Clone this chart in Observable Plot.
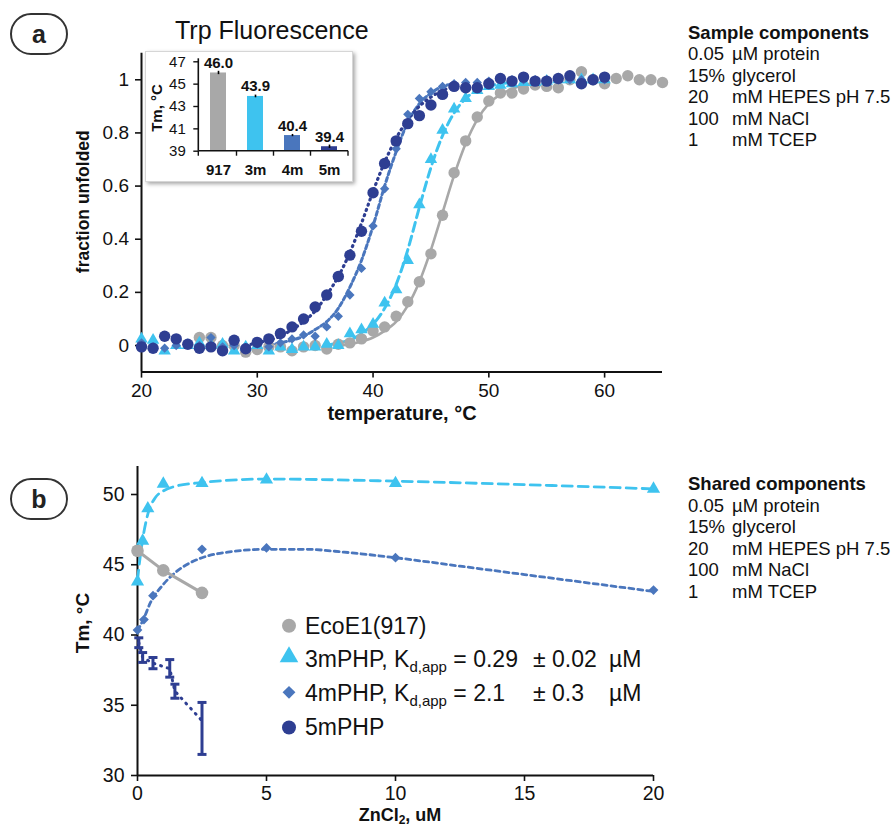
<!DOCTYPE html>
<html><head><meta charset="utf-8">
<script src="https://cdn.jsdelivr.net/npm/d3@7"></script>
<script src="https://cdn.jsdelivr.net/npm/@observablehq/plot@0.6"></script>
<style>
html,body{margin:0;padding:0;background:#fff;overflow:hidden;}
#root{position:relative;width:896px;height:828px;overflow:hidden;font-family:"Liberation Sans",Arial,Helvetica,sans-serif;}
.tag{position:absolute;box-sizing:border-box;border:2px solid #333;border-radius:21px;width:58px;height:42px;text-align:center;font-weight:bold;font-size:25px;line-height:38px;color:#222;}
#inset{position:absolute;left:145px;top:51px;width:206px;height:129px;background:#fff;border:1px solid #d6d6d6;box-shadow:2px 2px 4px rgba(0,0,0,0.35);}
</style></head>
<body><div id="root"></div>
<script>
const FONT = '"Liberation Sans", Arial, Helvetica, sans-serif';
const C917 = "#a8a8a8", C3 = "#3ec3ef", C4 = "#4a76bd", C5 = "#2e3e92";

// ---------- Panel a: Trp fluorescence melting curves ----------
const tempsMut = [20,21,22,23,24,25,26,27,28,29,30,31,32,33,34,35,36,37,38,39,40,41,42,43,44,45,46,47,48,49,50,51,52,53,54,55,56,57,58,59,60];
const temps917 = [25,26,27,28,29,30,31,32,33,34,35,36,37,38,39,40,41,42,43,44,45,46,47,48,49,50,51,52,53,54,55,56,57,58,59,60,61,62,63,64,65];
const frac917 = [0.03,0.03,0.0,0.0,-0.025,-0.015,-0.005,-0.005,-0.02,-0.005,0.0,-0.013,0.005,0.01,0.025,0.055,0.07,0.11,0.165,0.24,0.345,0.49,0.65,0.77,0.86,0.92,0.95,0.95,0.965,0.98,0.975,0.97,1.0,1.03,1.0,0.985,1.005,1.015,1.0,1.0,0.99];
const frac3m = [0.025,0.02,-0.02,0.0,0.0,0.01,0.0,0.005,-0.02,-0.005,0.0,-0.02,-0.005,-0.015,-0.005,-0.005,0.005,0.0,0.045,0.06,0.08,0.16,0.21,0.32,0.53,0.70,0.81,0.89,0.93,0.96,0.975,0.98,0.985,0.99,0.99,0.995,1.0,1.0,1.0,1.0,1.0];
const frac4m = [0.01,-0.005,-0.01,0.0,0.005,0.0,0.03,-0.005,0.0,-0.01,0.005,-0.005,0.01,0.025,0.04,0.035,0.07,0.11,0.19,0.29,0.45,0.59,0.74,0.87,0.93,0.955,0.975,0.985,0.99,0.99,0.995,1.0,1.0,1.0,1.0,1.0,1.0,1.0,1.0,1.0,1.0];
const frac5m = [-0.005,-0.01,0.035,0.025,0.005,-0.01,-0.005,-0.02,0.02,-0.012,0.012,0.025,0.045,0.07,0.10,0.145,0.19,0.26,0.34,0.43,0.575,0.685,0.77,0.835,0.865,0.905,0.945,0.975,0.97,0.97,0.985,1.005,0.995,1.01,0.995,0.995,1.005,1.015,0.985,1.0,1.01];
// fitted curves
const fitT917 = [37,38,39,40,41,42,43,44,45,46,47,48,49,50,51,52,53,54];
const fitV917 = [0,0.005,0.015,0.03,0.055,0.09,0.15,0.24,0.36,0.5,0.64,0.76,0.85,0.91,0.945,0.965,0.98,0.99];
const fitT3m = [36,37,38,39,40,41,42,43,44,45,46,47,48,49,50,51,52];
const fitV3m = [0,0.01,0.02,0.045,0.08,0.14,0.23,0.36,0.52,0.67,0.79,0.875,0.93,0.96,0.975,0.985,0.99];
const fitT4m = [31,32,33,34,35,36,37,38,39,40,41,42,43,44,45,46,47];
const fitV4m = [0,0.01,0.02,0.035,0.06,0.09,0.14,0.22,0.32,0.45,0.6,0.73,0.84,0.91,0.95,0.975,0.985];
const fitT5m = [29,30,31,32,33,34,35,36,37,38,39,40,41,42,43,44,45,46,47];
const fitV5m = [0,0.01,0.02,0.035,0.06,0.09,0.13,0.19,0.26,0.35,0.46,0.58,0.69,0.78,0.85,0.9,0.935,0.96,0.975];

// inset bars
const insetCats = ["917","3m","4m","5m"];
const insetTm = [46.0, 43.9, 40.4, 39.4];
const insetErr = [0.15, 0.12, 0.1, 0.15];
const insetColors = [C917, C3, C4, C5];

// ---------- Panel b: Tm vs ZnCl2 ----------
const conc917 = [0, 1, 2.5];
const tm917 = [46.0, 44.6, 43.0];
const conc3m = [0, 0.2, 0.4, 1, 2.5, 5, 10, 20];
const tm3m = [43.8, 46.7, 49.0, 50.75, 50.8, 51.05, 50.8, 50.4];
const conc4m = [0, 0.25, 0.6, 2.5, 5, 10, 20];
const tm4m = [40.35, 41.1, 42.8, 46.1, 46.2, 45.5, 43.2];
const conc5m = [0.05, 0.2, 0.6, 1.25, 1.45, 2.5];
const tm5m = [39.45, 38.4, 38.0, 37.6, 36.0, 33.9];
const lo5m = [39.1, 38.05, 37.6, 37.0, 35.5, 31.5];
const hi5m = [39.8, 38.75, 38.4, 38.25, 36.5, 35.2];
const fitC3m = [0, 0.1, 0.2, 0.4, 0.7, 1, 1.5, 2.5, 5, 10, 15, 20];
const fitTm3m = [43.9, 45.5, 46.8, 48.6, 49.8, 50.25, 50.6, 50.85, 51.1, 50.95, 50.7, 50.4];
const fitC4m = [0, 0.25, 0.5, 1, 1.5, 2, 2.5, 3.5, 5, 6.5, 8, 10, 12.5, 15, 17.5, 20];
const fitTm4m = [40.3, 41.2, 42.3, 43.6, 44.5, 45.1, 45.5, 45.9, 46.1, 46.1, 45.9, 45.5, 44.9, 44.3, 43.7, 43.1];

const legendLabels = ["EcoE1(917)", "3mPHP", "4mPHP", "5mPHP"];
const componentsA = [["0.05","µM protein"],["15%","glycerol"],["20","mM HEPES pH 7.5"],["100","mM NaCl"],["1","mM TCEP"]];

// ---------- helpers ----------
const zip = (xs, ys, kx, ky) => xs.map((x, i) => ({[kx]: x, [ky]: ys[i]}));
const root = document.getElementById("root");
const place = (el, left, top) => { el.style.position = "absolute"; el.style.left = left + "px"; el.style.top = top + "px"; root.appendChild(el); return el; };

// ---------- Panel a plot ----------
const plotA = Plot.plot({
  width: 700, height: 430,
  marginLeft: 141, marginRight: 38, marginTop: 52.7, marginBottom: 58.4,
  style: {fontFamily: FONT, fontSize: "19px", color: "#111", background: "transparent", overflow: "visible"},
  x: {domain: [20, 65]},
  y: {domain: [-0.1, 1.1]},
  marks: [
    Plot.axisX({ticks: [20,30,40,50,60], tickSize: 6, tickPadding: 5, label: null, strokeWidth: 1.6}),
    Plot.axisY({ticks: [0,0.2,0.4,0.6,0.8,1], tickSize: 6, tickPadding: 6.5, label: null, strokeWidth: 1.6, tickFormat: d => String(d)}),
    Plot.ruleX([20], {stroke: "#111", strokeWidth: 2}),
    Plot.ruleY([-0.1], {stroke: "#111", strokeWidth: 2}),
    Plot.line(zip(fitT917, fitV917, "t", "v"), {x: "t", y: "v", stroke: C917, strokeWidth: 2.6, curve: "monotone-x"}),
    Plot.line(zip(fitT3m, fitV3m, "t", "v"), {x: "t", y: "v", stroke: C3, strokeWidth: 3, strokeDasharray: "9,5", curve: "monotone-x"}),
    Plot.line(zip(fitT4m, fitV4m, "t", "v"), {x: "t", y: "v", stroke: C4, strokeWidth: 3, strokeDasharray: "4,3", curve: "monotone-x"}),
    Plot.line(zip(fitT5m, fitV5m, "t", "v"), {x: "t", y: "v", stroke: C5, strokeWidth: 3.2, strokeDasharray: "1,4.5", strokeLinecap: "round", curve: "monotone-x"}),
    Plot.dot(zip(temps917, frac917, "t", "v"), {x: "t", y: "v", r: 5.7, fill: C917, symbol: "circle"}),
    Plot.dot(zip(tempsMut, frac3m, "t", "v"), {x: "t", y: "v", r: 4.6, fill: C3, symbol: "triangle"}),
    Plot.dot(zip(tempsMut, frac4m, "t", "v"), {x: "t", y: "v", r: 4.2, fill: C4, symbol: "diamond2"}),
    Plot.dot(zip(tempsMut, frac5m, "t", "v"), {x: "t", y: "v", r: 5.7, fill: C5, symbol: "circle"})
  ]
});
place(plotA, 0, 0);

// ---------- Panel b plot ----------
const hcap = {draw(ctx, size) { const w = 4.5; ctx.moveTo(-w, 0); ctx.lineTo(w, 0); }};
const d5 = conc5m.map((c, i) => ({c, tm: tm5m[i], lo: lo5m[i], hi: hi5m[i]}));
const plotB = Plot.plot({
  width: 700, height: 400,
  marginLeft: 137, marginRight: 47, marginTop: 25.9, marginBottom: 65,
  style: {fontFamily: FONT, fontSize: "19.5px", color: "#111", background: "transparent", overflow: "visible"},
  x: {domain: [0, 20]},
  y: {domain: [30, 52]},
  marks: [
    Plot.axisX({ticks: [0,5,10,15,20], tickSize: 6, tickPadding: 5, label: null, strokeWidth: 1.6}),
    Plot.axisY({ticks: [30,35,40,45,50], tickSize: 6, tickPadding: 7, label: null, strokeWidth: 1.6}),
    Plot.ruleX([0], {stroke: "#111", strokeWidth: 2}),
    Plot.ruleY([30], {stroke: "#111", strokeWidth: 2}),
    Plot.line(zip(fitC3m, fitTm3m, "c", "tm"), {x: "c", y: "tm", stroke: C3, strokeWidth: 2.8, strokeDasharray: "10,6", curve: "monotone-x"}),
    Plot.line(zip(fitC4m, fitTm4m, "c", "tm"), {x: "c", y: "tm", stroke: C4, strokeWidth: 2.8, strokeDasharray: "5,4", curve: "monotone-x"}),
    Plot.line(d5, {x: "c", y: "tm", stroke: C5, strokeWidth: 3, strokeDasharray: "1,6", strokeLinecap: "round"}),
    Plot.line(zip(conc917, tm917, "c", "tm"), {x: "c", y: "tm", stroke: C917, strokeWidth: 3}),
    Plot.ruleX(d5, {x: "c", y1: "lo", y2: "hi", stroke: C5, strokeWidth: 3}),
    Plot.dot(d5, {x: "c", y: "lo", symbol: hcap, r: 4, stroke: C5, strokeWidth: 3}),
    Plot.dot(d5, {x: "c", y: "hi", symbol: hcap, r: 4, stroke: C5, strokeWidth: 3}),
    Plot.dot(zip(conc917, tm917, "c", "tm"), {x: "c", y: "tm", r: 6.3, fill: C917, symbol: "circle"}),
    Plot.dot(zip(conc3m, tm3m, "c", "tm"), {x: "c", y: "tm", r: 4.9, fill: C3, symbol: "triangle"}),
    Plot.dot(zip(conc4m, tm4m, "c", "tm"), {x: "c", y: "tm", r: 4.4, fill: C4, symbol: "diamond2"})
  ]
});
place(plotB, 0, 440);

// ---------- overlay texts ----------
const ov = d3.select(root).append("svg")
  .attr("width", 896).attr("height", 828)
  .style("position", "absolute").style("left", "0px").style("top", "0px")
  .style("font-family", FONT).style("pointer-events", "none");

ov.append("text").attr("x", 175).attr("y", 39).attr("font-size", 25).attr("fill", "#111").text("Trp Fluorescence");

ov.append("text").attr("transform", "translate(82.5,201.7) rotate(-90)").attr("text-anchor", "middle").attr("dy", "0.35em")
  .attr("font-size", 17.5).attr("font-weight", "bold").attr("fill", "#111").text("fraction unfolded");
ov.append("text").attr("x", 402).attr("y", 420).attr("text-anchor", "middle")
  .attr("font-size", 20).attr("font-weight", "bold").attr("fill", "#111").text("temperature, °C");

ov.append("text").attr("transform", "translate(82,623) rotate(-90)").attr("text-anchor", "middle").attr("dy", "0.35em")
  .attr("font-size", 19).attr("font-weight", "bold").attr("fill", "#111").text("Tm, °C");
const zt = ov.append("text").attr("x", 400).attr("y", 821).attr("text-anchor", "middle")
  .attr("font-size", 18).attr("font-weight", "bold").attr("fill", "#111");
zt.append("tspan").text("ZnCl");
zt.append("tspan").attr("font-size", 12).attr("dy", 3).text("2");
zt.append("tspan").attr("dy", -3).text(", uM");

function components(title, y0) {
  ov.append("text").attr("x", 688).attr("y", y0).attr("font-size", 18.5).attr("font-weight", "bold").attr("fill", "#111").text(title);
  componentsA.forEach((r, i) => {
    const y = y0 + 21.5 * (i + 1);
    ov.append("text").attr("x", 688).attr("y", y).attr("font-size", 18.5).attr("fill", "#111").text(r[0]);
    ov.append("text").attr("x", 732).attr("y", y).attr("font-size", 18.5).attr("fill", "#111").text(r[1]);
  });
}
components("Sample components", 38.5);
components("Shared components", 490);

// legend in panel b
const legColors = [C917, C3, C4, C5];
const legSyms = [d3.symbolCircle, d3.symbolTriangle, d3.symbolDiamond2, d3.symbolCircle];
const legSizes = [Math.PI*49, 150, 105, Math.PI*49];
const legY = [625.7, 657, 692.3, 727.5];
const legBase = [634, 666.7, 700.7, 735];
legendLabels.forEach((lab, i) => {
  ov.append("path").attr("d", d3.symbol(legSyms[i], legSizes[i])()).attr("transform", `translate(289,${legY[i]})`).attr("fill", legColors[i]);
  const t = ov.append("text").attr("x", 305).attr("y", legBase[i]).attr("font-size", 23).attr("fill", "#111");
  if (i === 1 || i === 2) {
    t.append("tspan").text(lab + ", K");
    t.append("tspan").attr("font-size", 15).attr("dy", 5).text("d,app");
    t.append("tspan").attr("dy", -5).text(i === 1 ? " = 0.29" : " = 2.1");
    ov.append("text").attr("x", 533).attr("y", legBase[i]).attr("font-size", 23).attr("fill", "#111").text(i === 1 ? "± 0.02" : "± 0.3");
    ov.append("text").attr("x", 609).attr("y", legBase[i]).attr("font-size", 23).attr("fill", "#111").text("µM");
  } else {
    t.text(lab);
  }
});

// panel tags
const tagA = document.createElement("div"); tagA.className = "tag"; tagA.textContent = "a"; tagA.style.left = "10px"; tagA.style.top = "13px"; root.appendChild(tagA);
const tagB = document.createElement("div"); tagB.className = "tag"; tagB.textContent = "b"; tagB.style.left = "10px"; tagB.style.top = "478px"; root.appendChild(tagB);

// ---------- inset bar chart ----------
const insetDiv = document.createElement("div"); insetDiv.id = "inset"; root.appendChild(insetDiv);
const insetData = insetCats.map((c, i) => ({cat: c, tm: insetTm[i], err: insetErr[i], color: insetColors[i]}));
const plotI = Plot.plot({
  width: 206, height: 129,
  marginLeft: 52.3, marginRight: 4, marginTop: 9.3, marginBottom: 30.3,
  style: {fontFamily: FONT, fontSize: "15px", color: "#111", background: "transparent", overflow: "visible"},
  x: {domain: insetCats, paddingInner: 0.57, paddingOuter: 0.27},
  y: {domain: [39, 47]},
  marks: [
    Plot.axisY({ticks: [39,41,43,45,47], tickSize: 5, tickPadding: 8, label: null, strokeWidth: 1.4}),
    Plot.axisX({tickSize: 0, tickPadding: 13, label: null, fontWeight: "bold", fontSize: 15}),
    Plot.barY(insetData, {x: "cat", y1: 39, y2: "tm", fill: "color"}),
    Plot.ruleX(insetData, {x: "cat", y1: d => d.tm - d.err, y2: d => d.tm + d.err, stroke: "#000", strokeWidth: 1.6}),
    Plot.text(insetData, {x: "cat", y: "tm", text: d => d.tm.toFixed(1), dy: -5, lineAnchor: "bottom", fontWeight: "bold", fontSize: 15, fill: "#111"})
  ]
});
insetDiv.appendChild(plotI);
// axis lines and category boundary ticks
const sx = plotI.scale("x"), sy = plotI.scale("y");
const isvg = d3.select(plotI);
const x0 = 52.3, x1 = 206 - 4, yb = sy.apply(39);
isvg.append("line").attr("x1", x0).attr("x2", x0).attr("y1", sy.apply(47) - 3).attr("y2", yb).attr("stroke", "#111").attr("stroke-width", 1.6);
isvg.append("line").attr("x1", x0).attr("x2", x1).attr("y1", yb).attr("y2", yb).attr("stroke", "#111").attr("stroke-width", 1.6);
const bnds = [x0, ...insetCats.slice(0, 3).map(c => sx.apply(c) + sx.bandwidth + (sx.step - sx.bandwidth) / 2), x1];
bnds.forEach(b => isvg.append("line").attr("x1", b).attr("x2", b).attr("y1", yb).attr("y2", yb + 5).attr("stroke", "#111").attr("stroke-width", 1.4));
isvg.append("text").attr("transform", `translate(11,56) rotate(-90)`).attr("text-anchor", "middle").attr("dy", "0.35em")
  .attr("font-size", 15).attr("font-weight", "bold").attr("fill", "#111").text("Tm, °C");
</script></body></html>
